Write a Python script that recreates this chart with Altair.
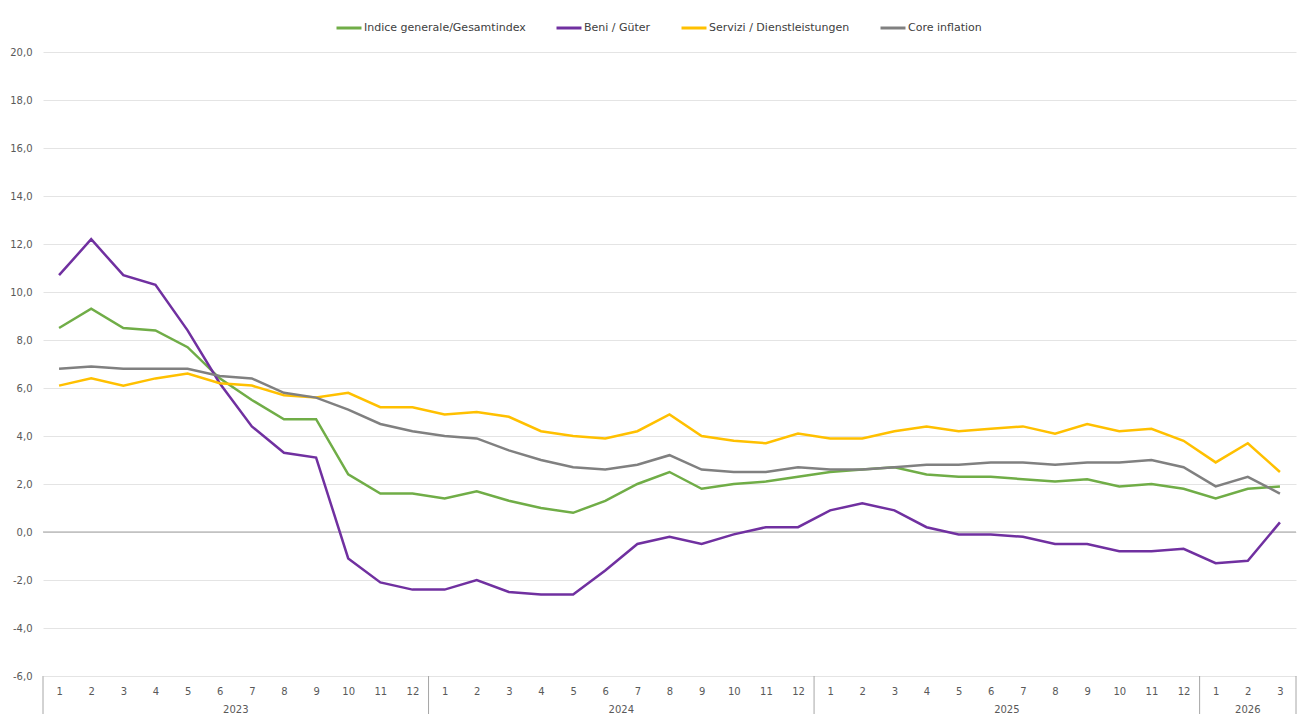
import altair as alt
import pandas as pd

# ---- data ----
years = [2023] * 12 + [2024] * 12 + [2025] * 12 + [2026] * 3
months = list(range(1, 13)) * 3 + [1, 2, 3]

series_names = ["Indice generale/Gesamtindex", "Beni / Güter",
                "Servizi / Dienstleistungen", "Core inflation"]
series_colors = ["#70AD47", "#7030A0", "#FFC000", "#808080"]

generale = [8.5, 9.3, 8.5, 8.4, 7.7, 6.4, 5.5, 4.7, 4.7, 2.4, 1.6, 1.6,
            1.4, 1.7, 1.3, 1.0, 0.8, 1.3, 2.0, 2.5, 1.8, 2.0, 2.1, 2.3,
            2.5, 2.6, 2.7, 2.4, 2.3, 2.3, 2.2, 2.1, 2.2, 1.9, 2.0, 1.8,
            1.4, 1.8, 1.9]
beni = [10.7, 12.2, 10.7, 10.3, 8.4, 6.2, 4.4, 3.3, 3.1, -1.1, -2.1, -2.4,
        -2.4, -2.0, -2.5, -2.6, -2.6, -1.6, -0.5, -0.2, -0.5, -0.1, 0.2, 0.2,
        0.9, 1.2, 0.9, 0.2, -0.1, -0.1, -0.2, -0.5, -0.5, -0.8, -0.8, -0.7,
        -1.3, -1.2, 0.4]
servizi = [6.1, 6.4, 6.1, 6.4, 6.6, 6.2, 6.1, 5.7, 5.6, 5.8, 5.2, 5.2,
           4.9, 5.0, 4.8, 4.2, 4.0, 3.9, 4.2, 4.9, 4.0, 3.8, 3.7, 4.1,
           3.9, 3.9, 4.2, 4.4, 4.2, 4.3, 4.4, 4.1, 4.5, 4.2, 4.3, 3.8,
           2.9, 3.7, 2.5]
core = [6.8, 6.9, 6.8, 6.8, 6.8, 6.5, 6.4, 5.8, 5.6, 5.1, 4.5, 4.2,
        4.0, 3.9, 3.4, 3.0, 2.7, 2.6, 2.8, 3.2, 2.6, 2.5, 2.5, 2.7,
        2.6, 2.6, 2.7, 2.8, 2.8, 2.9, 2.9, 2.8, 2.9, 2.9, 3.0, 2.7,
        1.9, 2.3, 1.6]

year_labels = ["2023", "2024", "2025", "2026"]
year_centers = [5.5, 17.5, 29.5, 37.0]
year_separators = [-0.5, 11.5, 23.5, 35.5, 38.5]
y_ticks = list(range(-6, 21, 2))

# ---- tables ----
rows = []
for k, (name, vals) in enumerate(zip(series_names, [generale, beni, servizi, core])):
    for i, v in enumerate(vals):
        rows.append({"i": i, "serie": name, "value": v, "month": months[i], "year": years[i]})
df = pd.DataFrame(rows)
years_df = pd.DataFrame({"i": year_centers, "label": year_labels})
sep_df = pd.DataFrame({"i": year_separators})
zero_df = pd.DataFrame({"value": [0]})

W, H = 1253, 624
FONT = "DejaVu Sans"
TXT = "#595959"

xscale = alt.Scale(domain=[-0.5, 38.5], nice=False, zero=False)
yscale = alt.Scale(domain=[-6, 20], nice=False, zero=False)

x_axis = alt.Axis(values=list(range(39)), labelExpr="(datum.value % 12) + 1",
                  title=None, ticks=False, domain=False, grid=False,
                  labelPadding=10, labelFontSize=10, labelColor=TXT, labelFont=FONT,
                  labelOverlap=False, labelFlush=False)
y_axis = alt.Axis(values=y_ticks,
                  labelExpr="(datum.value < 0 ? '-' : '') + replace(format(abs(datum.value), '.1f'), '.', ',')",
                  title=None, ticks=False, domain=False, gridColor="#e4e4e4", gridWidth=1,
                  labelPadding=11, labelFontSize=10, labelColor=TXT, labelFont=FONT)

grid_layer = alt.Chart(zero_df).mark_rule(color="#a0a0a0", strokeWidth=1).encode(
    y=alt.Y("value:Q", scale=yscale, axis=y_axis)
)

lines = alt.Chart(df).mark_line(strokeWidth=2.5).encode(
    x=alt.X("i:Q", scale=xscale, axis=x_axis),
    y=alt.Y("value:Q", scale=yscale, axis=y_axis),
    color=alt.Color("serie:N",
                    scale=alt.Scale(domain=series_names, range=series_colors),
                    sort=series_names,
                    legend=alt.Legend(orient="none", legendX=292, legendY=-38,
                                      direction="horizontal", title=None,
                                      symbolType="stroke", symbolStrokeWidth=3,
                                      symbolSize=625, labelFontSize=11,
                                      labelColor="#404040", labelFont=FONT,
                                      columnPadding=24, labelOffset=1,
                                      labelLimit=400)),
    order=alt.Order("serie:N"),
)

seps = alt.Chart(sep_df).mark_rule(color="#a6a6a6", strokeWidth=1).encode(
    x=alt.X("i:Q", scale=xscale, axis=x_axis),
    y=alt.value(H),
    y2=alt.value(H + 60),
)

year_text = alt.Chart(years_df).mark_text(fontSize=10, font=FONT, color=TXT).encode(
    x=alt.X("i:Q", scale=xscale, axis=x_axis),
    y=alt.value(H + 34),
    text="label:N",
)

chart = alt.layer(grid_layer, seps, lines, year_text).properties(
    width=W, height=H,
    autosize=alt.AutoSizeParams(type="none"),
    padding={"left": 35, "top": 44, "right": 2, "bottom": 38},
    background="white",
).configure_view(stroke=None)

chart.save("out.html", embed_options={"renderer": "svg", "actions": False})
